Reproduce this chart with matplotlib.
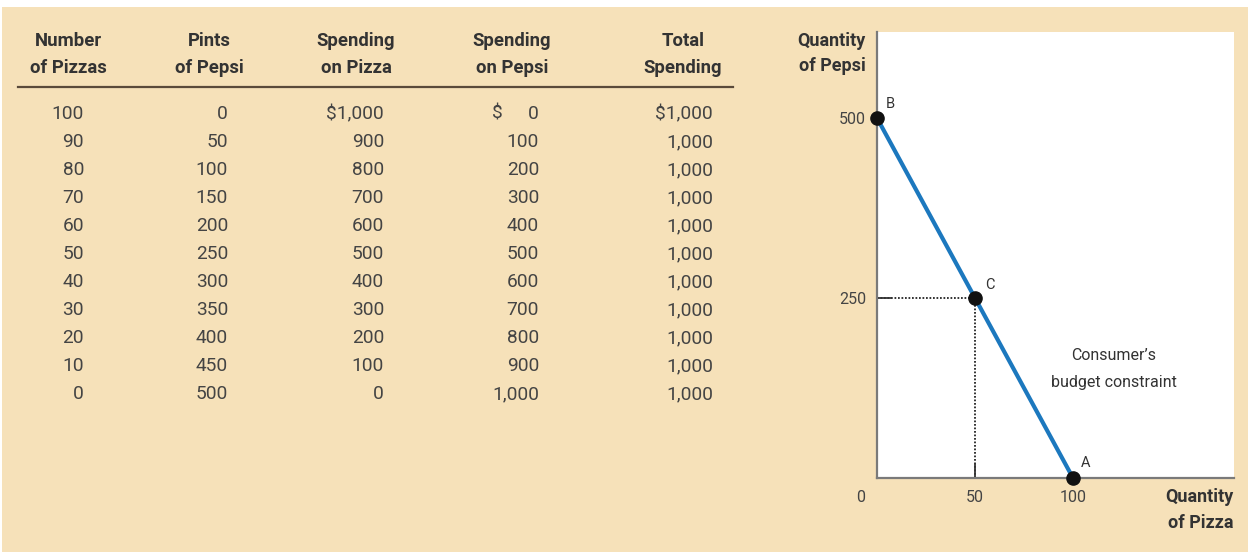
import matplotlib
matplotlib.use("Agg")
import matplotlib.pyplot as plt
from matplotlib.patches import Rectangle

# ---------------- data ----------------
headers = [("Number", "of Pizzas"), ("Pints", "of Pepsi"), ("Spending", "on Pizza"),
           ("Spending", "on Pepsi"), ("Total", "Spending")]
pizzas = [100, 90, 80, 70, 60, 50, 40, 30, 20, 10, 0]
pepsi = [0, 50, 100, 150, 200, 250, 300, 350, 400, 450, 500]
spend_pizza = [1000, 900, 800, 700, 600, 500, 400, 300, 200, 100, 0]
spend_pepsi = [0, 100, 200, 300, 400, 500, 600, 700, 800, 900, 1000]
total_spend = [1000] * 11
point_labels = {"A": (100, 0), "B": (0, 500), "C": (50, 250)}
x_ticks = [50, 100]
y_ticks = [250, 500]

W, H = 1248, 552
BEIGE = "#F6E1B9"
TXT = "#333333"
NUM = "#444444"
BLUE = "#1C78BE"

fig = plt.figure(figsize=(W / 100, H / 100), dpi=100)
fig.patch.set_facecolor("white")


def px(x, y):
    return x / W, 1 - y / H


fig.patches.append(Rectangle(px(2, 552), (W - 2) / W, (552 - 7) / H,
                             transform=fig.transFigure, facecolor=BEIGE,
                             edgecolor="none", zorder=-10))

# ---------------- table ----------------
hfont = dict(family="Roboto", weight="bold", fontsize=13.3, color=TXT)
nfont = dict(family="Roboto", weight="normal", fontsize=13.8, color=NUM)
header_cx = [68, 209, 356, 512, 683]
col_right = [84, 228, 384, 539, 713]
for (l1, l2), cx in zip(headers, header_cx):
    fig.text(*px(cx, 41), l1, ha="center", va="center", **hfont)
    fig.text(*px(cx, 68), l2, ha="center", va="center", **hfont)

fig.add_artist(plt.Line2D([18 / W, 733 / W], [1 - 87 / H, 1 - 87 / H],
                          transform=fig.transFigure, color="#5a4a3a", lw=1.6))


def fmt(v, dollar):
    s = f"{v:,}"
    return ("$" + s) if dollar else s


row_base0, row_dy = 119, 28
for i in range(len(pizzas)):
    y = row_base0 + i * row_dy
    vals = [str(pizzas[i]), str(pepsi[i]), fmt(spend_pizza[i], i == 0),
            fmt(spend_pepsi[i], False), fmt(total_spend[i], i == 0)]
    for v, xr in zip(vals, col_right):
        fig.text(*px(xr, y), v, ha="right", va="baseline", **nfont)
    if i == 0:
        fig.text(*px(492, y), "$", ha="left", va="baseline", **nfont)

# ---------------- chart ----------------
ax_l, ax_r, ax_t, ax_b = 877, 1234, 32, 478
ax = fig.add_axes([ax_l / W, 1 - ax_b / H, (ax_r - ax_l) / W, (ax_b - ax_t) / H])
ax.set_zorder(2)
ax.set_facecolor("white")
ax.set_xlim(0, (ax_r - ax_l) / 1.96)
ax.set_ylim(0, (ax_b - ax_t) / 0.72)
for s in ["top", "right"]:
    ax.spines[s].set_visible(False)
for s in ["left", "bottom"]:
    ax.spines[s].set_color("#7a7a7a")
    ax.spines[s].set_linewidth(1.6)

ax.plot(pizzas, pepsi, color=BLUE, lw=3.0, solid_capstyle="butt", zorder=3)

cx, cy = point_labels["C"]
ax.plot([0, cx], [cy, cy], color="#333333", lw=1.4, ls=(0, (0.9, 0.9)), zorder=2)
ax.plot([cx, cx], [cy, 0], color="#333333", lw=1.4, ls=(0, (0.9, 0.9)), zorder=2)

lab_off = {"A": (6, 6), "B": (6, 5), "C": (7, 4)}
for name, (x, y) in point_labels.items():
    ax.plot([x], [y], "o", color="#111111", ms=9.5, zorder=5, clip_on=False)
    ax.annotate(name, (x, y), xytext=lab_off[name], textcoords="offset points",
                ha="left", va="bottom", fontsize=10.5, family="Roboto",
                color=TXT)

ax.set_xticks(x_ticks)
ax.set_yticks(y_ticks)
ax.set_xticklabels([str(v) for v in x_ticks])
ax.set_yticklabels([str(v) for v in y_ticks])
ax.tick_params(direction="in", length=11, width=1.2, color="#222222",
               labelsize=11.5, labelcolor=NUM)
ax.tick_params(axis="x", pad=9)
ax.tick_params(axis="y", pad=8)
for lab in ax.get_xticklabels() + ax.get_yticklabels():
    lab.set_family("Roboto")
# tick marks hidden under the end points A and B
ax.xaxis.get_major_ticks()[1].tick1line.set_visible(False)
ax.yaxis.get_major_ticks()[1].tick1line.set_visible(False)

ax.annotate("0", (0, 0), xytext=(-12, -14), textcoords="offset points",
            ha="center", va="center", fontsize=11.5, family="Roboto",
            color=NUM, annotation_clip=False)

ax.text(1114 / W, 1 - 355 / H, "Consumer\u2019s", transform=fig.transFigure,
        ha="center", va="center", fontsize=11.5, family="Roboto",
        color=TXT)
ax.text(1114 / W, 1 - 382 / H, "budget constraint", transform=fig.transFigure,
        ha="center", va="center", fontsize=11.5, family="Roboto",
        color=TXT)

afont = dict(family="Roboto", weight="bold", fontsize=13, color=TXT)
fig.text(*px(866, 41), "Quantity", ha="right", va="center", **afont)
fig.text(*px(866, 66), "of Pepsi", ha="right", va="center", **afont)
fig.text(*px(1233, 497), "Quantity", ha="right", va="center", **afont)
fig.text(*px(1233, 523), "of Pizza", ha="right", va="center", **afont)

fig.savefig("out.png", dpi=100, facecolor=fig.get_facecolor())
